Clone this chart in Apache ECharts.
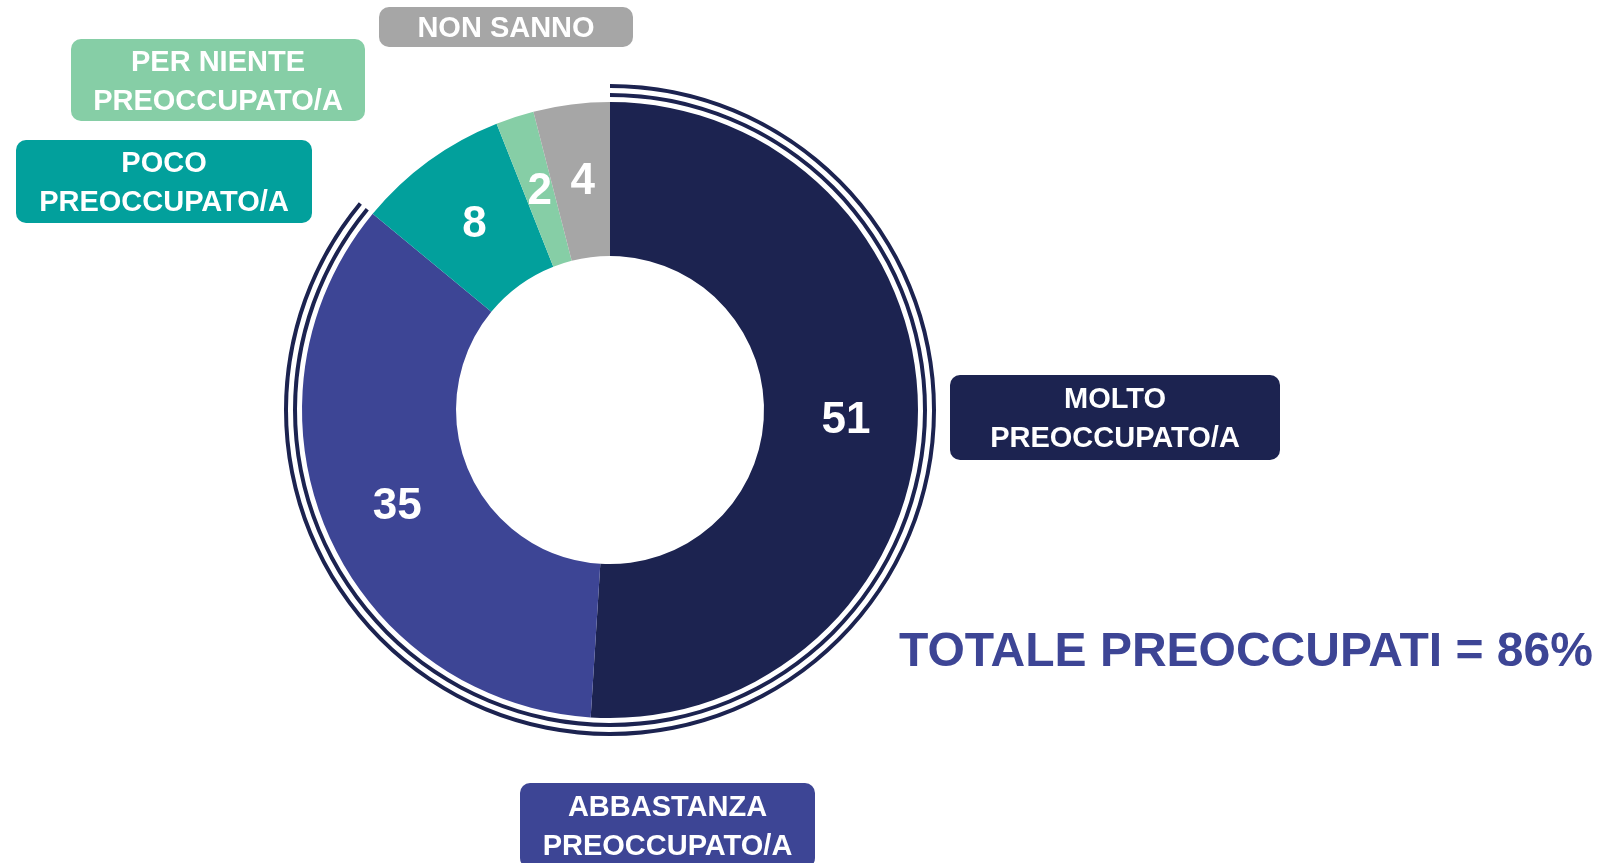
<!DOCTYPE html>
<html>
<head>
<meta charset="utf-8">
<script src="https://cdn.jsdelivr.net/npm/echarts@6/dist/echarts.min.js"></script>
<style>
  html, body { margin: 0; padding: 0; background: #fff; }
  #main { width: 1604px; height: 863px; }
</style>
</head>
<body>
<div id="main"></div>
<script>
// categorie e valori (%)
var categories = ['MOLTO\nPREOCCUPATO/A', 'ABBASTANZA\nPREOCCUPATO/A', 'POCO\nPREOCCUPATO/A', 'PER NIENTE\nPREOCCUPATO/A', 'NON SANNO'];
var values = [51, 35, 8, 2, 4];
var colors = ['#1C2350', '#3D4595', '#02A09C', '#86CEA6', '#A6A6A6'];
var totalText = 'TOTALE PREOCCUPATI = 86%';

(function () {
    var myChart = echarts.init(document.getElementById('main'));

    var font = '"Liberation Sans", Arial, sans-serif';

    // preoccupati = molto + abbastanza
    var preoccupati = values[0] + values[1];
    var altri = values[2] + values[3] + values[4];

    // box delle etichette
    var boxes = [
        [950, 375, 330, 85],
        [520, 783, 295, 85],
        [16, 140, 296, 83],
        [71, 39, 294, 82],
        [379, 7, 254, 40]
    ];

    var graphic = categories.map(function (name, i) {
        var b = boxes[i];
        return {
            type: 'rect',
            shape: { x: b[0], y: b[1], width: b[2], height: b[3], r: 10 },
            style: { fill: colors[i] },
            textContent: {
                style: {
                    text: name,
                    fill: '#fff',
                    font: 'bold 29px ' + font,
                    lineHeight: 39,
                    align: 'center'
                }
            },
            textConfig: { position: 'inside', offset: [0, 2] },
            silent: true
        };
    });

    graphic.push({
        type: 'text',
        left: 899,
        top: 629,
        style: {
            text: totalText,
            fill: '#3D4595',
            font: 'bold 48px ' + font
        }
    });

    // doppia linea attorno ai preoccupati
    function ring(r0, r1) {
        return {
            type: 'pie',
            center: [610, 410],
            radius: [r0, r1],
            startAngle: 90,
            clockwise: true,
            silent: true,
            label: { show: false },
            labelLine: { show: false },
            emphasis: { disabled: true },
            data: [
                { value: preoccupati, itemStyle: { color: '#1C2350' } },
                { value: altri, itemStyle: { color: 'rgba(0,0,0,0)' } }
            ]
        };
    }

    var option = {
        animation: false,
        graphic: graphic,
        series: [
            {
                type: 'pie',
                center: [610, 410],
                radius: [154, 308],
                startAngle: 90,
                clockwise: true,
                avoidLabelOverlap: false,
                silent: true,
                itemStyle: { borderWidth: 0 },
                label: {
                    show: true,
                    position: 'inside',
                    formatter: '{c}',
                    color: '#fff',
                    fontSize: 44,
                    fontWeight: 'bold',
                    fontFamily: font,
                    offset: [2, 4]
                },
                labelLine: { show: false },
                emphasis: { disabled: true },
                data: values.map(function (v, i) {
                    return { name: categories[i], value: v, itemStyle: { color: colors[i] } };
                })
            },
            ring(313, 317),
            ring(322, 326)
        ]
    };

    myChart.setOption(option);

    window.addEventListener('resize', function () {
        myChart.resize();
    });
})();
</script>
</body>
</html>
